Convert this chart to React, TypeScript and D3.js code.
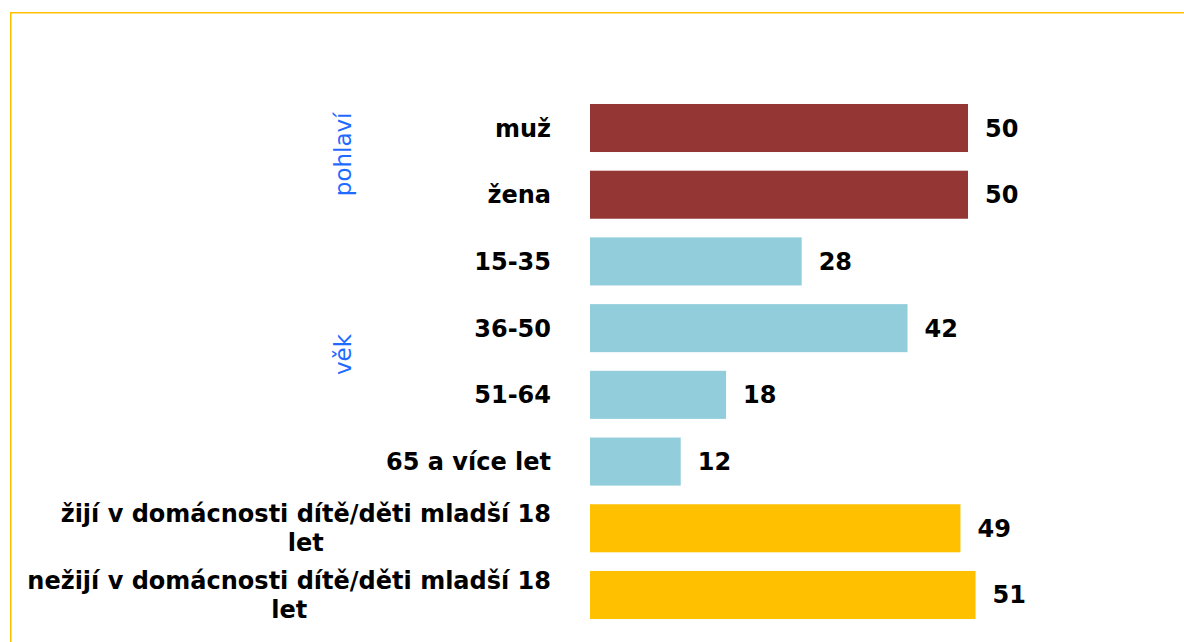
import React, { useRef, useEffect } from "react";
import * as d3 from "d3";

// "\n" marks where the original label breaks onto a second line
const categories = [
  "muž",
  "žena",
  "15-35",
  "36-50",
  "51-64",
  "65 a více let",
  "žijí v domácnosti dítě/děti mladší 18\nlet",
  "nežijí v domácnosti dítě/děti mladší 18\nlet",
];
const values = [50, 50, 28, 42, 18, 12, 49, 51];
const groupOf = ["pohlaví", "pohlaví", "věk", "věk", "věk", "věk", "děti", "děti"];
const groupLabels = ["pohlaví", "věk"];
const groupColors: Record<string, string> = {
  "pohlaví": "#943634",
  "věk": "#92CDDC",
  "děti": "#FFC000",
};

const W = 1184;
const H = 642;
const FONT = "'DejaVu Sans', Verdana, sans-serif";

const App = () => {
  const svgRef = useRef<SVGSVGElement | null>(null);

  useEffect(() => {
    if (!svgRef.current) return;
    const svg = d3.select(svgRef.current);
    svg.selectAll("*").remove();

    // frame, only top and left edges are visible
    svg.append("rect")
      .attr("x", 10.75)
      .attr("y", 12.75)
      .attr("width", W + 20)
      .attr("height", H + 20)
      .attr("fill", "none")
      .attr("stroke", "#FFC000")
      .attr("stroke-width", 1.5);

    const x = d3.scaleLinear().domain([0, 50]).range([590, 968]);
    const y = d3.scaleBand<string>()
      .domain(categories)
      .range([94.65, 628.35])
      .paddingInner(0.28)
      .paddingOuter(0.14);

    const rows = categories.map((c, i) => ({ c, v: values[i], g: groupOf[i] }));

    svg.selectAll(".bar")
      .data(rows)
      .enter().append("rect")
      .attr("class", "bar")
      .attr("x", x(0))
      .attr("y", d => y(d.c)!)
      .attr("width", d => x(d.v) - x(0))
      .attr("height", y.bandwidth())
      .attr("fill", d => groupColors[d.g]);

    svg.selectAll(".val")
      .data(rows)
      .enter().append("text")
      .attr("class", "val")
      .attr("x", d => x(d.v) + 17)
      .attr("y", d => y(d.c)! + y.bandwidth() / 2 + 8.5)
      .attr("font-family", FONT)
      .attr("font-size", 24)
      .attr("font-weight", "bold")
      .attr("fill", "#000")
      .text(d => d.v);

    // category labels, multi-line ones centred as a block against the right edge
    const right = 551;
    const lineH = 29;
    rows.forEach(d => {
      const g = svg.append("g");
      const lines = d.c.split("\n");
      const probe = g.append("text")
        .attr("font-family", FONT)
        .attr("font-size", 24)
        .attr("font-weight", "bold");
      const widths = lines.map(l => {
        probe.text(l);
        return (probe.node() as SVGTextElement).getComputedTextLength();
      });
      probe.remove();
      const blockW = d3.max(widths) || 0;
      const cy = y(d.c)! + y.bandwidth() / 2;
      const y0 = cy - ((lines.length - 1) * lineH) / 2 + 8.5;
      lines.forEach((l, i) => {
        g.append("text")
          .attr("x", lines.length > 1 ? right - blockW / 2 : right)
          .attr("y", y0 + i * lineH)
          .attr("text-anchor", lines.length > 1 ? "middle" : "end")
          .attr("font-family", FONT)
          .attr("font-size", 24)
          .attr("font-weight", "bold")
          .attr("fill", "#000")
          .text(l);
      });
    });

    // group labels, rotated
    groupLabels.forEach(gl => {
      const inGroup = rows.filter(d => d.g === gl);
      const top = y(inGroup[0].c)!;
      const bottom = y(inGroup[inGroup.length - 1].c)! + y.bandwidth();
      const cy = (top + bottom) / 2 - 7;
      svg.append("text")
        .attr("transform", `translate(351,${cy}) rotate(-90)`)
        .attr("text-anchor", "middle")
        .attr("font-family", FONT)
        .attr("font-size", 23)
        .attr("fill", "#1F6BFF")
        .text(gl);
    });
  }, []);

  return (
    <svg
      ref={svgRef}
      width={W}
      height={H}
      style={{ position: "absolute", left: 0, top: 0, background: "#fff" }}
    />
  );
};

export default App;
